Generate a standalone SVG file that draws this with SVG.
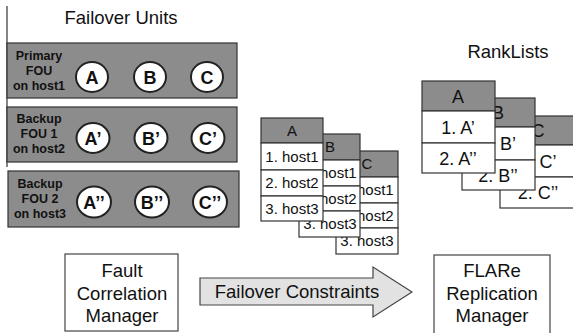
<svg xmlns="http://www.w3.org/2000/svg" width="573" height="333" viewBox="0 0 573 333">
<style>
.t{font-family:"Liberation Sans",Arial,sans-serif;fill:#111}
.title{font-size:18.5px;text-anchor:middle}
.fou{fill:#8c8c8c;stroke:#333;stroke-width:1.2}
.lbl{font-size:12.5px;font-weight:bold;text-anchor:middle}
.circ{fill:#fff;stroke:#222;stroke-width:2}
.cl{font-size:18px;font-weight:bold;text-anchor:middle}
.hd{fill:#8c8c8c;stroke:#333;stroke-width:1.2}
.cell{fill:#fff;stroke:#333;stroke-width:1.2}
.ct{font-size:15px;text-anchor:middle}
.rt{font-size:18px;text-anchor:middle}
.box{fill:#fff;stroke:#444;stroke-width:1.2}
.bt{font-size:18.5px;text-anchor:middle}
</style>
<line x1="7" y1="6" x2="7" y2="167" stroke="#333" stroke-width="1.2"/>
<text class="t title" x="121" y="24">Failover Units</text>

<g id="fou-primary">
<rect class="fou" x="7" y="43" width="230" height="55"/>
<text class="t lbl" x="39" y="60">Primary</text>
<text class="t lbl" x="39" y="75">FOU</text>
<text class="t lbl" x="39" y="90">on host1</text>
<ellipse class="circ" cx="92" cy="77" rx="16" ry="15"/><text class="t cl" x="92" y="83.5">A</text>
<ellipse class="circ" cx="150" cy="77" rx="16" ry="15"/><text class="t cl" x="150" y="83.5">B</text>
<ellipse class="circ" cx="207" cy="77" rx="16" ry="15"/><text class="t cl" x="207" y="83.5">C</text>
</g>
<g id="fou-backup1">
<rect class="fou" x="7" y="107" width="230" height="55"/>
<text class="t lbl" x="39" y="123">Backup</text>
<text class="t lbl" x="39" y="138">FOU 1</text>
<text class="t lbl" x="39" y="153">on host2</text>
<ellipse class="circ" cx="93" cy="138" rx="16.5" ry="15"/><text class="t cl" x="93" y="144.5">A’</text>
<ellipse class="circ" cx="151" cy="138" rx="16.5" ry="15"/><text class="t cl" x="151" y="144.5">B’</text>
<ellipse class="circ" cx="208" cy="138" rx="16.5" ry="15"/><text class="t cl" x="208" y="144.5">C’</text>
</g>
<g id="fou-backup2">
<rect class="fou" x="8" y="171" width="231" height="56"/>
<text class="t lbl" x="40" y="188">Backup</text>
<text class="t lbl" x="40" y="203">FOU 2</text>
<text class="t lbl" x="40" y="218">on host3</text>
<ellipse class="circ" cx="94" cy="202" rx="17" ry="15.5"/><text class="t cl" x="94" y="208.5">A’’</text>
<ellipse class="circ" cx="152" cy="202" rx="17" ry="15.5"/><text class="t cl" x="152" y="208.5">B’’</text>
<ellipse class="circ" cx="210" cy="202" rx="17" ry="15.5"/><text class="t cl" x="210" y="208.5">C’’</text>
</g>

<g id="hosts-C">
<rect class="hd" x="336" y="151" width="62" height="26"/>
<text class="t ct" x="367" y="169">C</text>
<rect class="cell" x="336" y="177" width="62" height="26"/><text class="t ct" x="367" y="195">1. host1</text>
<rect class="cell" x="336" y="203" width="62" height="25"/><text class="t ct" x="367" y="221">2. host2</text>
<rect class="cell" x="336" y="228" width="62" height="26"/><text class="t ct" x="367" y="246">3. host3</text>
</g>
<g id="hosts-B">
<rect class="hd" x="299" y="134" width="61" height="26"/>
<text class="t ct" x="330" y="152">B</text>
<rect class="cell" x="299" y="160" width="61" height="26"/><text class="t ct" x="330" y="178">1. host1</text>
<rect class="cell" x="299" y="186" width="61" height="25"/><text class="t ct" x="330" y="204">2. host2</text>
<rect class="cell" x="299" y="211" width="61" height="26"/><text class="t ct" x="330" y="229">3. host3</text>
</g>
<g id="hosts-A">
<rect class="hd" x="261" y="118" width="62" height="25"/>
<text class="t ct" x="292" y="136">A</text>
<rect class="cell" x="261" y="143" width="62" height="27"/><text class="t ct" x="292" y="162">1. host1</text>
<rect class="cell" x="261" y="170" width="62" height="26"/><text class="t ct" x="292" y="188">2. host2</text>
<rect class="cell" x="261" y="196" width="62" height="25"/><text class="t ct" x="292" y="214">3. host3</text>
</g>

<text class="t title" x="508" y="58">RankLists</text>
<g id="rank-C">
<rect class="hd" x="500" y="116" width="76" height="29"/>
<text class="t rt" x="538" y="137">C</text>
<rect class="cell" x="500" y="145" width="76" height="32"/><text class="t rt" x="538" y="168">1. C’</text>
<rect class="cell" x="500" y="177" width="76" height="31"/><text class="t rt" x="538" y="199">2. C’’</text>
</g>
<g id="rank-B">
<rect class="hd" x="462" y="98" width="73" height="29"/>
<text class="t rt" x="498" y="119">B</text>
<rect class="cell" x="462" y="127" width="73" height="33"/><text class="t rt" x="498" y="150">1. B’</text>
<rect class="cell" x="462" y="160" width="73" height="30"/><text class="t rt" x="498" y="182">2. B’’</text>
</g>
<g id="rank-A">
<rect class="hd" x="422" y="81" width="73" height="30"/>
<text class="t rt" x="458" y="103">A</text>
<rect class="cell" x="422" y="111" width="73" height="32"/><text class="t rt" x="458" y="134">1. A’</text>
<rect class="cell" x="422" y="143" width="73" height="30"/><text class="t rt" x="458" y="165">2. A’’</text>
</g>

<g id="fcm">
<rect class="box" x="65" y="254" width="113" height="77"/>
<text class="t bt" x="122" y="277">Fault</text>
<text class="t bt" x="122" y="300">Correlation</text>
<text class="t bt" x="122" y="322">Manager</text>
</g>
<g id="frm">
<rect class="box" x="434" y="255" width="116" height="80"/>
<text class="t bt" x="492" y="277">FLARe</text>
<text class="t bt" x="492" y="300">Replication</text>
<text class="t bt" x="492" y="322">Manager</text>
</g>
<g id="connectors">
<path d="M200,278 L373,278 L373,267 L412,292 L373,317 L373,305 L200,305 Z" fill="#e2e2e2" stroke="#444" stroke-width="1.2"/>
<text class="t" x="297" y="298" font-size="18.5" text-anchor="middle">Failover Constraints</text>
</g>
</svg>
